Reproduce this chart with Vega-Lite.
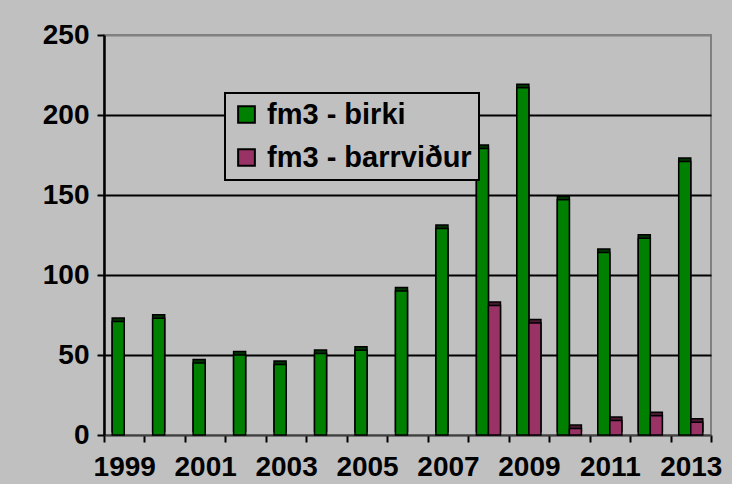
{
  "$schema": "https://vega.github.io/schema/vega-lite/v6.json",
  "width": 607,
  "height": 400,
  "autosize": {"type": "none"},
  "padding": {"left": 104, "top": 35, "right": 21, "bottom": 49},
  "background": "#c0c0c0",
  "config": {
    "view": {"stroke": "#808080", "strokeWidth": 2},
    "font": "Liberation Sans",
    "legend": {"strokeWidth": 2}
  },
  "data": {
    "values": [
      {"year": "1999", "series": "fm3 - birki", "value": 71},
      {"year": "2000", "series": "fm3 - birki", "value": 73},
      {"year": "2001", "series": "fm3 - birki", "value": 45},
      {"year": "2002", "series": "fm3 - birki", "value": 50},
      {"year": "2003", "series": "fm3 - birki", "value": 44},
      {"year": "2004", "series": "fm3 - birki", "value": 51},
      {"year": "2005", "series": "fm3 - birki", "value": 53},
      {"year": "2006", "series": "fm3 - birki", "value": 90},
      {"year": "2007", "series": "fm3 - birki", "value": 129},
      {"year": "2008", "series": "fm3 - birki", "value": 179},
      {"year": "2009", "series": "fm3 - birki", "value": 217},
      {"year": "2010", "series": "fm3 - birki", "value": 147},
      {"year": "2011", "series": "fm3 - birki", "value": 114},
      {"year": "2012", "series": "fm3 - birki", "value": 123},
      {"year": "2013", "series": "fm3 - birki", "value": 171},
      {"year": "2008", "series": "fm3 - barrviður", "value": 81},
      {"year": "2009", "series": "fm3 - barrviður", "value": 70},
      {"year": "2010", "series": "fm3 - barrviður", "value": 4},
      {"year": "2011", "series": "fm3 - barrviður", "value": 9},
      {"year": "2012", "series": "fm3 - barrviður", "value": 12},
      {"year": "2013", "series": "fm3 - barrviður", "value": 8}
    ]
  },
  "encoding": {
    "x": {
      "field": "year",
      "type": "ordinal",
      "scale": {"paddingInner": 0, "paddingOuter": 0},
      "axis": {
        "title": null,
        "labelAngle": 0,
        "labelFontSize": 28,
        "labelFontWeight": "bold",
        "labelColor": "black",
        "labelPadding": 11,
        "labelOverlap": false,
        "labelExpr": "parseInt(datum.label) % 2 == 1 ? datum.label : ''",
        "tickBand": "extent",
        "tickSize": 7,
        "tickColor": "black",
        "tickWidth": 2,
        "domainColor": "#404040",
        "domainWidth": 2,
        "grid": false
      }
    },
    "xOffset": {
      "field": "series",
      "type": "nominal",
      "scale": {"domain": ["fm3 - birki", "fm3 - barrviður"], "paddingInner": 0, "paddingOuter": 0.68}
    },
    "y": {
      "field": "value",
      "type": "quantitative",
      "scale": {"domain": [0, 250]},
      "axis": {
        "title": null,
        "values": [0, 50, 100, 150, 200, 250],
        "labelFontSize": 28,
        "labelFontWeight": "bold",
        "labelColor": "black",
        "labelPadding": 8,
        "tickSize": 7,
        "tickColor": "black",
        "tickWidth": 2,
        "domainColor": "black",
        "domainWidth": 2.5,
        "grid": true,
        "gridColor": {"condition": {"test": "datum.value == 250 || datum.value == 0", "value": "#808080"}, "value": "black"},
        "gridWidth": 2,
        "gridOpacity": 1
      }
    }
  },
  "layer": [
    {
      "mark": {"type": "bar", "xOffset": 2, "yOffset": -3.5, "stroke": "black", "strokeWidth": 1.5},
      "encoding": {
        "fill": {
          "condition": {"test": "datum.series == 'fm3 - birki'", "value": "#003300"},
          "value": "#4a1a33"
        }
      }
    },
    {
      "mark": {"type": "bar", "xOffset": -2, "stroke": "black", "strokeWidth": 1.5},
      "encoding": {
        "color": {
          "field": "series",
          "type": "nominal",
          "scale": {"domain": ["fm3 - birki", "fm3 - barrviður"], "range": ["#008000", "#993366"]},
          "legend": {
            "title": null,
            "orient": "none",
            "legendX": 121,
            "legendY": 58,
            "fillColor": "#c0c0c0",
            "strokeColor": "black",
            "padding": 7,
            "labelFontSize": 29,
            "labelFontWeight": "bold",
            "labelColor": "black",
            "labelLimit": 400,
            "labelOffset": 6,
            "rowPadding": 13,
            "symbolType": "square",
            "symbolSize": 280,
            "symbolStrokeColor": "black",
            "symbolStrokeWidth": 2,
            "symbolOpacity": 1
          }
        }
      }
    }
  ]
}
